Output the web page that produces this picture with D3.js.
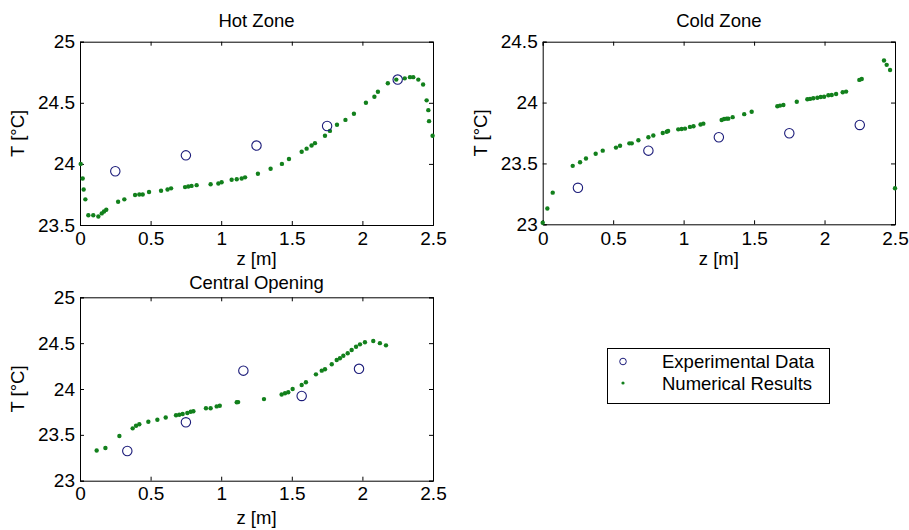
<!DOCTYPE html>
<html>
<head>
<meta charset="utf-8">
<script src="https://cdn.jsdelivr.net/npm/d3@7"></script>
<style>
  body { margin: 0; background: #fff; }
  svg { font-family: "Liberation Sans", Arial, sans-serif; }
</style>
</head>
<body>
<div id="chart"></div>
<script>
// experimental points (z [m], T [°C])
var hotExpZ = [0.25, 0.75, 1.25, 1.75, 2.25]
var hotExpT = [23.94, 24.07, 24.15, 24.31, 24.69]
var coldExpZ = [0.25, 0.75, 1.25, 1.75, 2.25]
var coldExpT = [23.30, 23.605, 23.715, 23.748, 23.816]
var centralExpZ = [0.335, 0.75, 1.157, 1.57, 1.976]
var centralExpT = [23.324, 23.637, 24.20, 23.924, 24.22]

// numerical results
var hotNumZ = [0.005, 0.019, 0.026, 0.038, 0.059, 0.094, 0.13, 0.154, 0.17, 0.186, 0.27, 0.314, 0.39, 0.42, 0.444, 0.489, 0.574, 0.62, 0.645, 0.744, 0.767, 0.79, 0.826, 0.925, 0.98, 1.003, 1.074, 1.11, 1.145, 1.169, 1.26, 1.35, 1.43, 1.48, 1.57, 1.605, 1.64, 1.664, 1.735, 1.77, 1.82, 1.88, 1.94, 2.025, 2.085, 2.11, 2.18, 2.24, 2.30, 2.337, 2.36, 2.396, 2.43, 2.455, 2.467, 2.472, 2.497]
var hotNumT = [24.0, 23.88, 23.79, 23.71, 23.58, 23.58, 23.57, 23.595, 23.61, 23.625, 23.69, 23.71, 23.745, 23.75, 23.75, 23.77, 23.78, 23.79, 23.80, 23.81, 23.815, 23.82, 23.826, 23.834, 23.84, 23.85, 23.87, 23.875, 23.88, 23.89, 23.92, 23.96, 24.0, 24.04, 24.1, 24.125, 24.15, 24.17, 24.23, 24.27, 24.32, 24.36, 24.41, 24.5, 24.55, 24.59, 24.66, 24.69, 24.70, 24.71, 24.71, 24.69, 24.65, 24.52, 24.44, 24.35, 24.23]
var coldNumZ = [0.0, 0.033, 0.071, 0.213, 0.265, 0.307, 0.376, 0.426, 0.52, 0.549, 0.615, 0.632, 0.679, 0.75, 0.785, 0.852, 0.88, 0.89, 0.962, 0.986, 1.01, 1.045, 1.07, 1.12, 1.14, 1.27, 1.287, 1.305, 1.317, 1.348, 1.43, 1.483, 1.665, 1.684, 1.708, 1.803, 1.878, 1.897, 1.92, 1.949, 1.973, 1.997, 2.027, 2.051, 2.082, 2.129, 2.153, 2.247, 2.264, 2.422, 2.441, 2.465, 2.5]
var coldNumT = [23.013, 23.13, 23.26, 23.48, 23.51, 23.54, 23.58, 23.605, 23.63, 23.645, 23.665, 23.665, 23.69, 23.715, 23.73, 23.75, 23.76, 23.767, 23.78, 23.783, 23.786, 23.80, 23.805, 23.82, 23.827, 23.857, 23.865, 23.868, 23.868, 23.88, 23.905, 23.925, 23.97, 23.975, 23.98, 24.007, 24.027, 24.03, 24.035, 24.04, 24.046, 24.048, 24.06, 24.062, 24.07, 24.085, 24.09, 24.186, 24.194, 24.345, 24.31, 24.268, 23.296]
var centralNumZ = [0.118, 0.18, 0.279, 0.373, 0.397, 0.42, 0.484, 0.548, 0.607, 0.68, 0.703, 0.727, 0.76, 0.784, 0.803, 0.892, 0.925, 0.968, 0.99, 1.11, 1.12, 1.303, 1.428, 1.452, 1.475, 1.506, 1.57, 1.6, 1.671, 1.712, 1.735, 1.783, 1.818, 1.841, 1.865, 1.896, 1.924, 1.955, 1.983, 2.018, 2.077, 2.124, 2.167]
var centralNumT = [23.33, 23.357, 23.487, 23.571, 23.60, 23.615, 23.643, 23.665, 23.69, 23.713, 23.72, 23.727, 23.738, 23.752, 23.757, 23.79, 23.79, 23.81, 23.818, 23.855, 23.857, 23.89, 23.94, 23.953, 23.964, 24.0, 24.044, 24.073, 24.16, 24.20, 24.215, 24.27, 24.316, 24.335, 24.363, 24.39, 24.425, 24.46, 24.487, 24.51, 24.523, 24.50, 24.476]

var xTicks = [0, 0.5, 1, 1.5, 2, 2.5]
var hotYTicks = [23.5, 24, 24.5, 25]
var coldYTicks = [23, 23.5, 24, 24.5]
var centralYTicks = [23, 23.5, 24, 24.5, 25]
var legendLabels = ['Experimental Data', 'Numerical Results']

var expColor = '#1c1c7a', numColor = '#12801c'

var svg = d3.select('#chart').append('svg').attr('width', 909).attr('height', 530)

var zip = (a, b) => a.map((v, i) => [v, b[i]])

var panel = (title, box, yDom, yTicks, exp, num) => {
  var x = d3.scaleLinear().domain([0, 2.5]).range([box.l, box.r])
  var y = d3.scaleLinear().domain(yDom).range([box.b, box.t])
  var g = svg.append('g')
  var fmt = d => String(d)

  // inward ticks on all four sides, matlab style
  g.append('g').attr('transform', `translate(0,${box.b})`)
    .call(d3.axisBottom(x).tickValues(xTicks).tickFormat(fmt).tickSize(-4).tickPadding(box.xpad))
  g.append('g').attr('transform', `translate(0,${box.t})`)
    .call(d3.axisTop(x).tickValues(xTicks).tickFormat('').tickSize(-4))
  g.append('g').attr('transform', `translate(${box.l},0)`)
    .call(d3.axisLeft(y).tickValues(yTicks).tickFormat(fmt).tickSize(-4).tickPadding(5))
  g.append('g').attr('transform', `translate(${box.r},0)`)
    .call(d3.axisRight(y).tickValues(yTicks).tickFormat('').tickSize(-4))
  g.selectAll('.domain').attr('stroke', '#000')
  g.selectAll('.tick line').attr('stroke', '#000')
  g.selectAll('.tick text').attr('font-size', 19).attr('fill', '#000')
    .attr('font-family', '"Liberation Sans", Arial, sans-serif')

  g.append('text').attr('x', (box.l + box.r) / 2).attr('y', box.t - box.tgap)
    .attr('text-anchor', 'middle').attr('font-size', 18.5).text(title)
  g.append('text').attr('x', (box.l + box.r) / 2).attr('y', box.b + box.zgap)
    .attr('text-anchor', 'middle').attr('font-size', 18.5).text('z [m]')
  g.append('text').attr('transform', `translate(${box.l - 56},${(box.t + box.b) / 2}) rotate(-90)`)
    .attr('text-anchor', 'middle').attr('font-size', 18.5).text('T [°C]')

  g.append('g').selectAll('circle').data(num).enter().append('circle')
    .attr('cx', d => x(d[0])).attr('cy', d => y(d[1])).attr('r', 2.2)
    .attr('fill', numColor)
  g.append('g').selectAll('circle').data(exp).enter().append('circle')
    .attr('cx', d => x(d[0])).attr('cy', d => y(d[1])).attr('r', 4.7)
    .attr('fill', 'none').attr('stroke', expColor).attr('stroke-width', 1.1)
}

panel('Hot Zone', {l: 80, r: 433, t: 41.7, b: 225, tgap: 15, zgap: 40, xpad: 7}, [23.5, 25], hotYTicks,
  zip(hotExpZ, hotExpT), zip(hotNumZ, hotNumT))
panel('Cold Zone', {l: 542.7, r: 895, t: 41.7, b: 224.3, tgap: 15, zgap: 41, xpad: 7}, [23, 24.5], coldYTicks,
  zip(coldExpZ, coldExpT), zip(coldNumZ, coldNumT))
panel('Central Opening', {l: 80, r: 433, t: 297.3, b: 480.7, tgap: 8, zgap: 43, xpad: 6}, [23, 25], centralYTicks,
  zip(centralExpZ, centralExpT), zip(centralNumZ, centralNumT))

// legend
var leg = svg.append('g')
leg.append('rect').attr('x', 607.5).attr('y', 348.5).attr('width', 222).attr('height', 55)
  .attr('fill', '#fff').attr('stroke', '#000')
leg.selectAll('text').data(legendLabels).enter().append('text')
  .attr('x', 662).attr('y', (d, i) => 368 + i * 22).attr('font-size', 18.5).text(d => d)
leg.append('circle').attr('cx', 623).attr('cy', 361.5).attr('r', 3.3)
  .attr('fill', 'none').attr('stroke', expColor).attr('stroke-width', 1)
leg.append('circle').attr('cx', 623).attr('cy', 383).attr('r', 1.6).attr('fill', numColor)
</script>
</body>
</html>
